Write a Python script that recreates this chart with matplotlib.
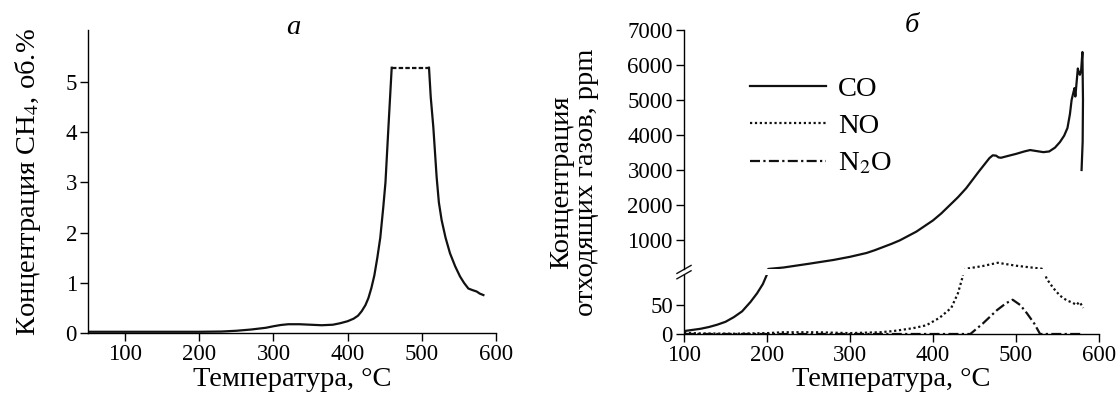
import matplotlib
matplotlib.use('Agg')
import matplotlib.pyplot as plt

plt.rcParams['font.family'] = ['Liberation Serif', 'DejaVu Serif']
plt.rcParams['mathtext.fontset'] = 'stix'

# --- панель а: CH4 ---
ch4_t = [50, 100, 150, 200, 230, 250, 270, 290, 300, 310, 320, 335, 350, 365, 380, 390,
         400, 408, 414, 419, 424, 428, 432, 436, 440, 444, 448, 451, 455, 459.4]
ch4_v = [0.03, 0.03, 0.03, 0.03, 0.035, 0.05, 0.075, 0.11, 0.14, 0.165, 0.18, 0.18, 0.17,
         0.16, 0.17, 0.2, 0.24, 0.29, 0.35, 0.44, 0.56, 0.7, 0.9, 1.15, 1.5, 1.9, 2.5, 3.0,
         4.1, 5.28]
ch4_plato_t = [459.4, 509.7]
ch4_plato_v = [5.28, 5.28]
ch4_t2 = [509.7, 512, 515.5, 520, 523, 526.7, 532, 538, 545, 551.5, 557, 562.7, 568, 574,
          578, 583]
ch4_v2 = [5.28, 4.7, 4.1, 3.1, 2.6, 2.25, 1.9, 1.59, 1.33, 1.13, 1.0, 0.89, 0.86, 0.83,
          0.79, 0.76]

# --- панель б: отходящие газы, ppm ---
co_lo_t = [100, 110, 120, 130, 140, 150, 160, 170, 180, 188, 195, 201]
co_lo_v = [5, 7, 9, 12, 16, 21, 29, 39, 55, 70, 86, 106]
co_hi_t = [200.5, 202, 220, 250, 280, 300, 320, 330, 350, 360, 380, 400, 410, 430, 440,
           455, 460, 468, 472, 476, 479, 482, 490, 500, 510, 517, 525, 533, 540, 547, 553,
           558, 562, 565, 567, 569, 570.5, 571.5, 573, 574.5, 575.5, 577, 578.5, 580, 580.7,
           580.3, 579]
co_hi_v = [150, 175, 215, 320, 430, 520, 630, 710, 890, 990, 1240, 1560, 1760, 2220, 2480,
           2950, 3100, 3340, 3420, 3410, 3360, 3350, 3400, 3460, 3530, 3570, 3540, 3510, 3530,
           3640, 3800, 3980, 4200, 4600, 5000, 5200, 5340, 5100, 5500, 5900, 5800, 5720, 5850,
           6370, 5000, 3800, 3000]

no_lo_t1 = [100, 120, 160, 200, 220, 260, 300, 336, 352, 376, 392, 408, 422, 430, 435, 438]
no_lo_v1 = [2, 1, 0.5, 1.5, 3, 3, 1.5, 3, 5, 10, 15, 28, 45, 70, 95, 115]
no_hi_t = [437, 440, 460, 478, 500, 531, 534]
no_hi_v = [120, 180, 257, 350, 266, 180, 120]
no_lo_t2 = [532, 537, 545, 553, 561, 568, 573, 576, 578, 581]
no_lo_v2 = [115, 95, 79, 66, 58, 54, 50, 55, 52, 45]

n2o_t = [100, 445, 460, 477, 488, 496, 505, 513, 522, 529, 580]
n2o_v = [0, 0, 18, 41, 53, 59, 50, 36, 18, 0, 0]

clr = '#111111'
lw = 1.6
fs_tick = 16.5
fs_lab = 20.5

fig = plt.figure(figsize=(11.2, 3.94), dpi=100)

def style(ax):
    ax.spines['top'].set_visible(False)
    ax.spines['right'].set_visible(False)
    for s in ax.spines.values():
        s.set_linewidth(1.0)
    ax.tick_params(direction='out', length=6, width=1.0, labelsize=fs_tick, pad=2)

# панель а
ax1 = fig.add_axes([88/1120, 0.1541, 408/1120, 0.7698])
style(ax1)
ax1.plot(ch4_t, ch4_v, color=clr, lw=lw)
ax1.plot(ch4_plato_t, ch4_plato_v, color=clr, lw=lw, linestyle=(0, (2, 1)))
ax1.plot(ch4_t2, ch4_v2, color=clr, lw=lw)
ax1.set_xlim(50, 600)
ax1.set_ylim(0, 6.03)
ax1.set_xticks([100, 200, 300, 400, 500, 600])
ax1.set_yticks([0, 1, 2, 3, 4, 5])
fig.text(293/1120, 1 - 27/394, 'а', ha='center', va='center', fontsize=fs_lab, style='italic')
fig.text(28/1120, 0.538, 'Концентрация CH$_4$, об.%', rotation=90,
         ha='center', va='center', fontsize=fs_lab)
fig.text(292/1120, 14/394, 'Температура, °C', ha='center', va='center', fontsize=fs_lab)

# панель б (разрыв оси)
ax_lo = fig.add_axes([684/1120, 0.1523, 415/1120, 0.1503])
ax_hi = fig.add_axes([684/1120, 0.3162, 415/1120, 0.6077])
style(ax_lo)
style(ax_hi)
ax_hi.spines['bottom'].set_visible(False)
ax_hi.tick_params(bottom=False, labelbottom=False)

ax_lo.plot(co_lo_t, co_lo_v, color=clr, lw=lw)
co_line, = ax_hi.plot(co_hi_t, co_hi_v, color=clr, lw=lw, label='CO')
no_line, = ax_lo.plot(no_lo_t1, no_lo_v1, color=clr, lw=lw, linestyle=(0, (1, 1.2)), label='NO')
ax_lo.plot(no_lo_t2, no_lo_v2, color=clr, lw=lw, linestyle=(0, (1, 1.2)))
ax_hi.plot(no_hi_t, no_hi_v, color=clr, lw=lw, linestyle=(0, (1, 1.2)))
n2o_line, = ax_lo.plot(n2o_t, n2o_v, color=clr, lw=lw, linestyle=(0, (4.5, 1.5, 1, 1.5)),
                       label='N$_2$O')

ax_lo.set_xlim(100, 600)
ax_hi.set_xlim(100, 600)
ax_lo.set_ylim(0, 102)
ax_hi.set_ylim(160, 7000)
ax_lo.set_xticks([100, 200, 300, 400, 500, 600])
ax_lo.set_yticks([0, 50])
ax_hi.set_yticks([1000, 2000, 3000, 4000, 5000, 6000, 7000])

# значки разрыва оси
for ax, yy, dy in [(ax_lo, 1.0, 4/59), (ax_hi, 0.0, 4/239.6)]:
    ax.plot([-0.017, 0.017], [yy - dy, yy + dy], transform=ax.transAxes,
            color=clr, lw=1.0, clip_on=False)

fig.text(912/1120, 1 - 25/394, 'б', ha='center', va='center', fontsize=fs_lab, style='italic')
fig.text(574/1120, 0.538, 'Концентрация\nотходящих газов, ppm', rotation=90,
         ha='center', va='center', fontsize=fs_lab, linespacing=1.0)
fig.text(891/1120, 14/394, 'Температура, °C', ha='center', va='center', fontsize=fs_lab)

fig.legend(handles=[co_line, no_line, n2o_line], loc='upper left',
           bbox_to_anchor=(750/1120, (394-76)/394), frameon=False, fontsize=fs_lab,
           handlelength=2.67, handletextpad=0.42, labelspacing=0.4,
           borderpad=0, borderaxespad=0)

fig.savefig('out.png', dpi=100)
